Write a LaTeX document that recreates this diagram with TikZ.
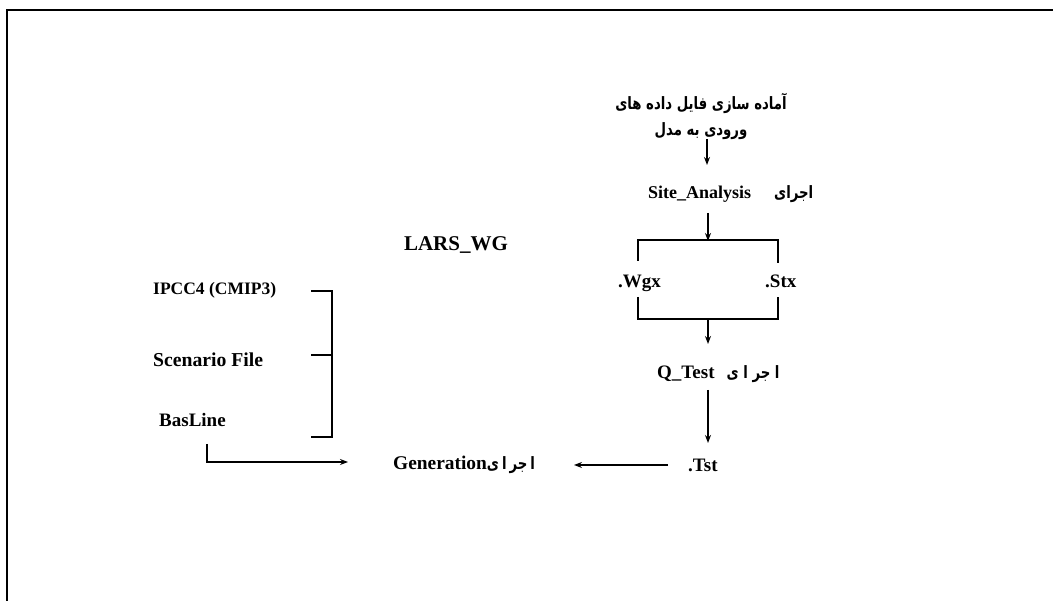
\documentclass[tikz,border=0pt]{standalone}
\usepackage{fontspec}
\setmainfont{Liberation Serif}
\newfontfamily\arabicfont[Script=Arabic,FakeStretch=0.78]{DejaVu Sans}
\TeXXeTstate=1
\usetikzlibrary{arrows.meta}
\tikzset{
  lbl/.style={font=\fontsize{19}{22}\selectfont\bfseries, inner sep=0pt, anchor=base west},
  fa/.style={font=\fontsize{17}{24}\selectfont\arabicfont\bfseries, inner sep=0pt},
  ln/.style={line width=1.3pt, black},
  arr/.style={ln, -{Stealth[length=8pt,width=6pt]}},
  frame/.style={line width=2pt, black}
}
\newcommand{\fa}[1]{{\fontsize{17}{20}\selectfont\arabicfont\bfseries\beginR #1\endR}}
\begin{document}
\begin{tikzpicture}[x=1pt,y=-1pt]
\useasboundingbox (0,0) rectangle (1053,601);
\draw[frame] (7,601) -- (7,10) -- (1053,10);

% texts
\node[fa, align=center] (input) at (701,116) {\beginR آماده سازی فایل داده های\endR\\[2pt]\beginR ورودی به مدل\endR};
\node[lbl, font=\fontsize{18}{22}\selectfont\bfseries] (site) at (648,199) {Site\_Analysis\hspace{23pt}\fa{اجرای}};
\node[lbl, font=\fontsize{21}{24}\selectfont\bfseries, anchor=base] (lars) at (456,251) {LARS\_WG};
\node[lbl] (wgx) at (618,288) {.Wgx};
\node[lbl] (stx) at (765,288) {.Stx};
\node[lbl] (qtest) at (657,379) {Q\_Test\hspace{12pt}\fa{ا جر ا ی}};
\node[lbl] (tst) at (688,472) {.Tst};
\node[lbl, font=\fontsize{19.4}{22}\selectfont\bfseries] (gen) at (393,470) {Generation\fa{ا\hspace{3pt}جر\hspace{3pt}ا\hspace{3pt}ی}};
\node[lbl, font=\fontsize{17.5}{20}\selectfont\bfseries] (ipcc) at (153,295) {IPCC4 (CMIP3)};
\node[lbl, font=\fontsize{19.7}{22}\selectfont\bfseries] (scen) at (153,367) {Scenario File};
\node[lbl] (base) at (159,427) {BasLine};

% coordinates
\coordinate (a1) at (707,139);
\coordinate (a2) at (707,165);
\coordinate (b1) at (708,213);
\coordinate (b2) at (708,241);
\coordinate (tl) at (638,240);
\coordinate (tr) at (778,240);
\coordinate (tld) at (638,261);
\coordinate (trd) at (778,263);
\coordinate (blu) at (638,297);
\coordinate (bru) at (778,297);
\coordinate (bl) at (638,319);
\coordinate (br) at (778,319);
\coordinate (c1) at (708,319);
\coordinate (c2) at (708,344);
\coordinate (d1) at (708,390);
\coordinate (d2) at (708,443);
\coordinate (e1) at (668,465);
\coordinate (e2) at (574,465);
\coordinate (f0) at (207,444);
\coordinate (f1) at (207,462);
\coordinate (f2) at (348,462);
\coordinate (g1) at (311,291);
\coordinate (g2) at (332,291);
\coordinate (g3) at (311,355);
\coordinate (g4) at (332,355);
\coordinate (g5) at (311,437);
\coordinate (g6) at (332,437);

% connectors
\draw[arr] (a1) -- (a2);
\draw[arr] (b1) -- (b2);
\draw[ln] (tld) -- (tl) -- (tr) -- (trd);
\draw[ln] (blu) -- (bl) -- (br) -- (bru);
\draw[arr] (c1) -- (c2);
\draw[arr] (d1) -- (d2);
\draw[arr] (e1) -- (e2);
\draw[arr] (f0) -- (f1) -- (f2);
\draw[ln] (g1) -- (g2) -- (g6) -- (g5);
\draw[ln] (g3) -- (g4);
\end{tikzpicture}
\end{document}
